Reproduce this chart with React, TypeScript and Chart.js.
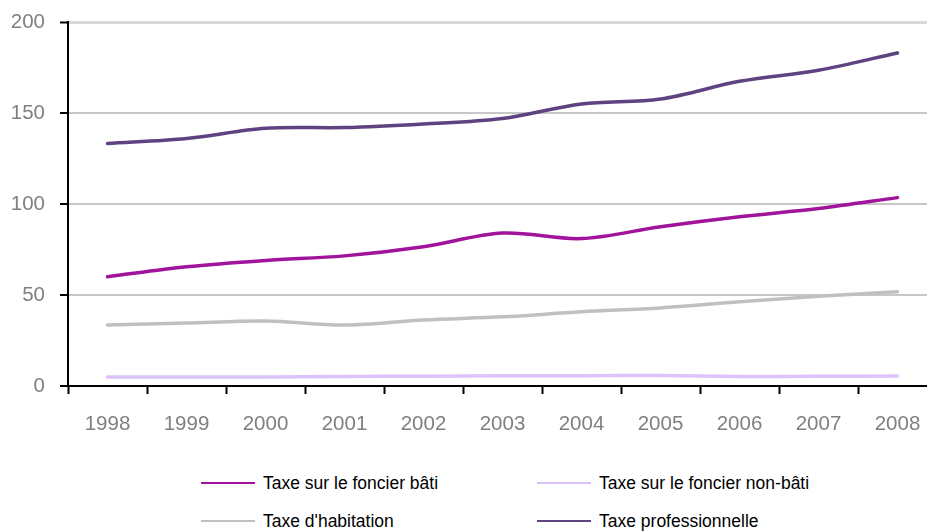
import React, { useEffect, useRef } from "react";
import { Chart, registerables } from "chart.js";

Chart.register(...registerables);

const years = ["1998", "1999", "2000", "2001", "2002", "2003", "2004", "2005", "2006", "2007", "2008"];
const foncierBati = [60, 65.5, 69, 71.5, 76.5, 84, 81, 87.5, 93, 97.5, 103.5];
const foncierNonBati = [5, 5, 5, 5.2, 5.4, 5.6, 5.6, 5.8, 5.2, 5.3, 5.5];
const habitation = [33.5, 34.6, 35.7, 33.5, 36.3, 38, 40.8, 42.9, 46.3, 49.3, 51.8];
const professionnelle = [133.3, 136, 141.6, 142, 144, 147, 155, 157.7, 167.4, 173.5, 183];
const yTicks = [0, 50, 100, 150, 200];

const seriesNames = [
  "Taxe sur le foncier bâti",
  "Taxe sur le foncier non-bâti",
  "Taxe d'habitation",
  "Taxe professionnelle",
];
const seriesColors = ["#a0139a", "#dcc4fa", "#c0c0c0", "#5e4380"];
const seriesData = [foncierBati, foncierNonBati, habitation, professionnelle];

const FONT = "'Liberation Sans', Arial, sans-serif";

export default function App() {
  const ref = useRef<HTMLCanvasElement | null>(null);

  useEffect(() => {
    if (!ref.current) return;
    const chart = new Chart(ref.current, {
      type: "line",
      data: {
        labels: years,
        datasets: seriesData.map((d, i) => ({
          label: seriesNames[i],
          data: d,
          borderColor: seriesColors[i],
          backgroundColor: seriesColors[i],
          borderWidth: 3.5,
          pointRadius: 0,
          tension: 0.33,
          borderCapStyle: "round" as const,
          fill: false,
        })),
      },
      options: {
        animation: false,
        responsive: false,
        devicePixelRatio: 1,
        layout: { padding: { top: 22, left: 0, right: 8, bottom: 0 } },
        plugins: { legend: { display: false }, tooltip: { enabled: false } },
        scales: {
          x: {
            type: "category",
            offset: true,
            grid: {
              offset: true,
              drawOnChartArea: false,
              drawTicks: true,
              tickLength: 8,
              tickColor: "#000",
              tickWidth: 2,
            },
            border: { display: true, color: "#000", width: 2 },
            ticks: {
              color: "#808080",
              font: { family: FONT, size: 20.5 },
              padding: 18,
              maxRotation: 0,
              autoSkip: false,
            },
            afterFit: (s: any) => {
              s.height = 64;
            },
          },
          y: {
            min: 0,
            max: 200,
            afterBuildTicks: (s: any) => {
              s.ticks = yTicks.map((v) => ({ value: v }));
            },
            grid: {
              color: (c: any) =>
                c.tick && c.tick.value === 0 ? "rgba(0,0,0,0)" : c.tick && c.tick.value === 200 ? "#d9d9d9" : "#c8c8c8",
              lineWidth: (c: any) => (c.tick && c.tick.value === 200 ? 3 : 2),
              drawTicks: true,
              tickLength: 8,
              tickColor: "#000",
              tickWidth: 2,
            },
            border: { display: true, color: "#000", width: 2 },
            ticks: {
              color: "#808080",
              font: { family: FONT, size: 20.5 },
              padding: 15,
            },
            afterFit: (s: any) => {
              s.width = 68;
              s.paddingTop = 5;
              s.paddingBottom = 5;
            },
          },
        },
      },
    });
    return () => chart.destroy();
  }, []);

  const legendPos = [
    { x: 201, y: 483 },
    { x: 537, y: 483 },
    { x: 201, y: 521 },
    { x: 537, y: 521 },
  ];

  return (
    <div
      style={{
        position: "fixed",
        left: 0,
        top: 0,
        width: 927,
        height: 531,
        overflow: "hidden",
        background: "#fff",
      }}
    >
      <canvas ref={ref} width={945} height={450} style={{ position: "absolute", left: 0, top: 0 }} />
      {seriesNames.map((name, i) => (
        <div
          key={name}
          style={{
            position: "absolute",
            left: legendPos[i].x,
            top: legendPos[i].y - 12,
            height: 24,
            display: "flex",
            alignItems: "center",
            whiteSpace: "nowrap",
            fontFamily: FONT,
            fontSize: 17.5,
            color: "#000",
          }}
        >
          <span
            style={{
              display: "inline-block",
              width: 54,
              height: 2,
              background: seriesColors[i],
              marginRight: 8,
            }}
          />
          <span>{name}</span>
        </div>
      ))}
    </div>
  );
}
